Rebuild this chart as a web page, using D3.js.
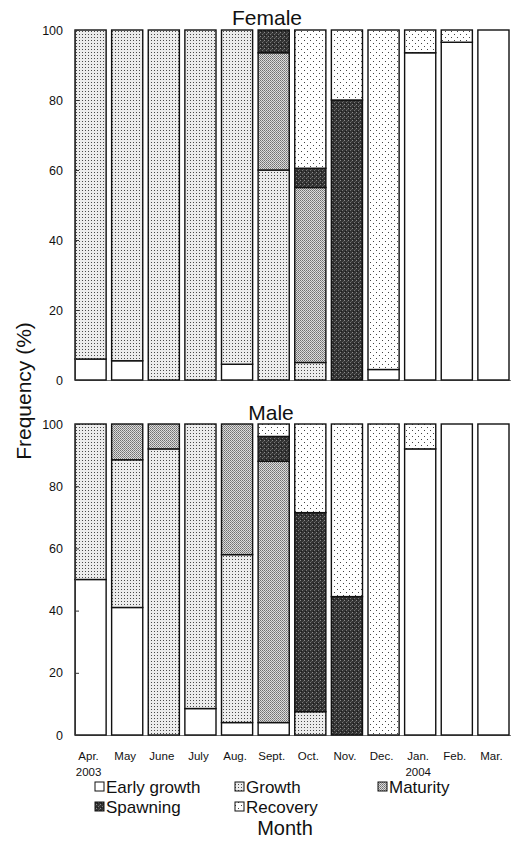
<!DOCTYPE html>
<html><head><meta charset="utf-8">
<script src="https://cdn.jsdelivr.net/npm/d3@7"></script>
<style>body{margin:0;background:#fff}svg{display:block;font-family:"Liberation Sans",Arial,sans-serif}</style>
</head><body><svg id="c" width="513" height="843"></svg>
<script>
const months = ["Apr.","May","June","July","Aug.","Sept.","Oct.","Nov.","Dec.","Jan.","Feb.","Mar."];
const yearLabels = ["2003","","","","","","","","","2004","",""];
const stages = ["Early growth","Growth","Maturity","Spawning","Recovery"];
const yTicks = [0,20,40,60,80,100];

const femaleEarly    = [6,5.5,0,0,4.5,0,0,0,3,93.5,96.5,100];
const femaleGrowth   = [94,94.5,100,100,95.5,60,5,0,0,0,0,0];
const femaleMaturity = [0,0,0,0,0,33.5,50,0,0,0,0,0];
const femaleSpawning = [0,0,0,0,0,6.5,5.5,80,0,0,0,0];
const femaleRecovery = [0,0,0,0,0,0,39.5,20,97,6.5,3.5,0];

const maleEarly    = [50,41,0,8.5,4,4,0,0,0,92,100,100];
const maleGrowth   = [50,47.5,92,91.5,54,0,7.5,0,0,0,0,0];
const maleMaturity = [0,11.5,8,0,42,84,0,0,0,0,0,0];
const maleSpawning = [0,0,0,0,0,8,64,44.5,0,0,0,0];
const maleRecovery = [0,0,0,0,0,4,28.5,55.5,100,8,0,0];

const svg = d3.select("#c");
svg.append("rect").attr("width",513).attr("height",843).attr("fill","#fff");
const defs = svg.append("defs");
function pat(id, w, h, bg, dots){
  const p = defs.append("pattern").attr("id",id).attr("patternUnits","userSpaceOnUse").attr("width",w).attr("height",h);
  p.append("rect").attr("width",w).attr("height",h).attr("fill",bg);
  dots.forEach(d=>p.append("rect").attr("x",d[0]).attr("y",d[1]).attr("width",1).attr("height",1).attr("fill",d[2]));
}
pat("pEarly",4,4,"#fff",[]);
pat("pGrowth",3,3,"#ececec",[[1,1,"#4a4a4a"]]);
pat("pMaturity",2,2,"#dcdcdc",[[0,0,"#707070"],[1,1,"#8a8a8a"]]);
pat("pSpawning",4,4,"#333",[[0,0,"#8a8a8a"],[2,2,"#777"],[1,3,"#1a1a1a"],[3,1,"#555"]]);
pat("pRecovery",6,6,"#fff",[[1,1,"#444"],[4,4,"#444"]]);
const fills = ["url(#pEarly)","url(#pGrowth)","url(#pMaturity)","url(#pSpawning)","url(#pRecovery)"];

const x = d3.scaleBand().domain(months).range([75,509]).paddingInner(0.15).paddingOuter(0);

function panel(series, y0, y1, title, tx, ty){
  const y = d3.scaleLinear().domain([0,100]).range([y0,y1]);
  const rows = months.map((m,i)=>{const o={month:m}; stages.forEach((s,k)=>o[s]=series[k][i]); return o;});
  const stack = d3.stack().keys(stages)(rows);
  const g = svg.append("g");
  g.append("line").attr("x1",75).attr("x2",511).attr("y1",y0+0.5).attr("y2",y0+0.5).attr("stroke","#777").attr("stroke-width",1);
  stack.forEach((layer,k)=>{
    g.selectAll(null).data(layer.filter(d=>d[1]-d[0]>0)).join("rect")
      .attr("x",d=>x(d.data.month)).attr("width",x.bandwidth())
      .attr("y",d=>y(d[1])).attr("height",d=>y(d[0])-y(d[1]))
      .attr("fill",fills[k]).attr("stroke","#111").attr("stroke-width",1.4);
  });
  const ax = svg.append("g").attr("transform","translate(75,0)")
    .call(d3.axisLeft(y).tickValues(yTicks).tickSize(-4).tickPadding(12));
  ax.select(".domain").attr("stroke","#333");
  ax.selectAll(".tick line").attr("stroke","#333");
  ax.selectAll("text").attr("font-size","12.5px").attr("fill","#111").attr("font-family","Liberation Sans, Arial, sans-serif");
  svg.append("text").attr("x",tx).attr("y",ty).attr("text-anchor","middle").attr("font-size","21px").attr("fill","#111").text(title);
}
panel([femaleEarly,femaleGrowth,femaleMaturity,femaleSpawning,femaleRecovery],380,30,"Female",267,25);
panel([maleEarly,maleGrowth,maleMaturity,maleSpawning,maleRecovery],735,424,"Male",271,420);

svg.selectAll(null).data(months).join("text")
  .attr("x",d=>x(d)+x.bandwidth()/2-2).attr("y",760).attr("text-anchor","middle")
  .attr("font-size","11.5px").attr("fill","#111").text(d=>d);
svg.selectAll(null).data(months.filter((m,i)=>yearLabels[i])).join("text")
  .attr("x",d=>x(d)+x.bandwidth()/2-2).attr("y",776).attr("text-anchor","middle")
  .attr("font-size","11.5px").attr("fill","#111").text(d=>yearLabels[months.indexOf(d)]);

svg.append("text").attr("transform","translate(31,391) rotate(-90)").attr("text-anchor","middle")
  .attr("font-size","21px").attr("fill","#111").text("Frequency (%)");

const legPos = [[95,793],[235,793],[378,793],[95,813],[235,813]];
stages.forEach((s,k)=>{
  const [lx,ly] = legPos[k];
  svg.append("rect").attr("x",lx).attr("y",ly-11).attr("width",9).attr("height",9)
    .attr("fill",fills[k]).attr("stroke","#111").attr("stroke-width",1);
  svg.append("text").attr("x",lx+11).attr("y",ly).attr("font-size","17px").attr("fill","#111").text(s);
});
svg.append("text").attr("x",285).attr("y",835).attr("text-anchor","middle").attr("font-size","20px").attr("fill","#111").text("Month");
</script></body></html>
